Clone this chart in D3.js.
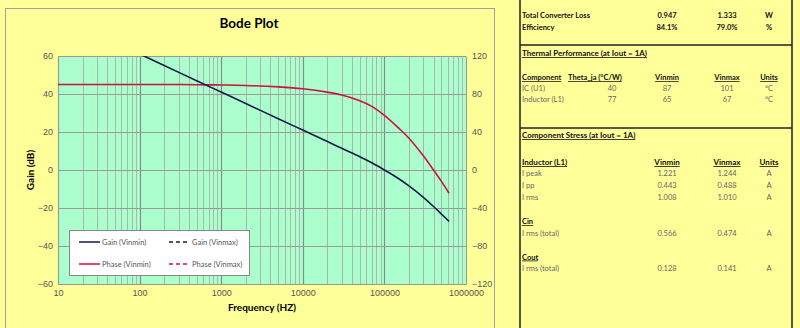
<!DOCTYPE html>
<meta charset="utf-8">
<title>Bode Plot</title>
<script src="https://d3js.org/d3.v7.min.js"></script>
<style>
  body { margin: 0; background: #ffff99; }
  svg { display: block; font-family: Lato, "Open Sans", sans-serif; }
</style>
<body>
<svg width="800" height="328"></svg>
<script>
// values
var freq = [10, 20, 50, 100, 200, 500, 1000, 2000, 5000, 10000, 20000, 30000, 50000,
  70000, 100000, 150000, 200000, 300000, 400000, 500000, 620000];
var gainVinmin = [81, 75, 67, 61, 55, 47, 41, 35, 27, 21, 15, 11.4, 7,
  3.8, 0, -4.6, -8.4, -14.4, -19.2, -23.2, -27];
var phaseVinmin = [90, 90, 90, 90, 90, 89.8, 89.5, 89, 87.5, 85.5, 82, 79, 73,
  67, 57.5, 44, 33.5, 15, 0, -12, -24.5];

var gainTicks = [-60, -40, -20, 0, 20, 40, 60];
var phaseTicks = [-120, -80, -40, 0, 40, 80, 120];
var freqTicks = [10, 100, 1000, 10000, 100000, 1000000];

var legendItems = [
  { label: "Gain (Vinmin)", color: "#1a1a4a", dash: null },
  { label: "Gain (Vinmax)", color: "#1a1a4a", dash: "4,3" },
  { label: "Phase (Vinmin)", color: "#cc1144", dash: null },
  { label: "Phase (Vinmax)", color: "#cc1144", dash: "4,3" }
];

// side table
var lossRows = [
  ["Total Converter Loss", "0.947", "1.333", "W"],
  ["Efficiency", "84.1%", "79.0%", "%"]
];
var thermalHead = ["Component", "Theta_ja (\u00B0C/W)", "Vinmin", "Vinmax", "Units"];
var thermalRows = [
  ["IC (U1)", "40", "87", "101", "\u00B0C"],
  ["Inductor (L1)", "77", "65", "67", "\u00B0C"]
];
var inductorRows = [
  ["I peak", "1.221", "1.244", "A"],
  ["I pp", "0.443", "0.488", "A"],
  ["I rms", "1.008", "1.010", "A"]
];
var cinRows = [["I rms (total)", "0.566", "0.474", "A"]];
var coutRows = [["I rms (total)", "0.128", "0.141", "A"]];

var svg = d3.select("svg");

var x = d3.scaleLog().domain([10, 1e6]).range([58, 466]);
var yL = d3.scaleLinear().domain([-60, 60]).range([284, 56]);
var yR = d3.scaleLinear().domain([-120, 120]).range([284, 56]);

// chart frame
svg.append("rect")
  .attr("x", 5.5).attr("y", 8.5).attr("width", 489).attr("height", 340)
  .attr("fill", "#ffff99").attr("stroke", "#a0a0a0");

svg.append("text")
  .attr("x", 249).attr("y", 28).attr("text-anchor", "middle")
  .attr("font-size", 13.5).attr("font-weight", "bold").text("Bode Plot");

// plot area
svg.append("rect")
  .attr("x", 58).attr("y", 56).attr("width", 408).attr("height", 228)
  .attr("fill", "#aaffcc");

var minor = [];
for (var d = 1; d < 6; d++) {
  for (var k = 1; k < 10; k++) minor.push(k * Math.pow(10, d));
}
svg.append("g").selectAll("line")
  .data(minor)
  .enter().append("line")
  .attr("x1", function (v) { return Math.round(x(v)) + 0.5; })
  .attr("x2", function (v) { return Math.round(x(v)) + 0.5; })
  .attr("y1", 56).attr("y2", 284)
  .attr("stroke", function (v) { return freqTicks.indexOf(v) >= 0 ? "#8a8a8a" : "#a8b8ac"; })
  .attr("stroke-width", function (v) { return freqTicks.indexOf(v) >= 0 ? 1.2 : 1; });

svg.append("g").selectAll("line")
  .data(gainTicks)
  .enter().append("line")
  .attr("x1", 58).attr("x2", 466)
  .attr("y1", function (v) { return Math.round(yL(v)) + 0.5; })
  .attr("y2", function (v) { return Math.round(yL(v)) + 0.5; })
  .attr("stroke", "#999");

// axes
function styleAxis(g) {
  g.select(".domain").attr("stroke", "#999");
  g.selectAll("text").attr("fill", "#555").attr("font-size", 9);
}
svg.append("g").attr("transform", "translate(58,0)")
  .call(d3.axisLeft(yL).tickValues(gainTicks).tickSize(0).tickPadding(5))
  .call(styleAxis);
svg.append("g").attr("transform", "translate(466,0)")
  .call(d3.axisRight(yR).tickValues(phaseTicks).tickSize(0).tickPadding(6))
  .call(styleAxis);
svg.append("g").attr("transform", "translate(0,284)")
  .call(d3.axisBottom(x).tickValues(freqTicks).tickFormat(d3.format("d")).tickSize(0).tickPadding(6))
  .call(styleAxis);

svg.append("text")
  .attr("transform", "translate(34,170) rotate(-90)")
  .attr("text-anchor", "middle").attr("font-size", 10).attr("font-weight", "bold")
  .text("Gain (dB)");
svg.append("text")
  .attr("x", 262).attr("y", 311).attr("text-anchor", "middle")
  .attr("font-size", 10).attr("font-weight", "bold")
  .text("Frequency (HZ)");

// curves
svg.append("clipPath").attr("id", "plotclip")
  .append("rect").attr("x", 58).attr("y", 56).attr("width", 408).attr("height", 228);

var gainLine = d3.line()
  .x(function (d, i) { return x(freq[i]); })
  .y(function (d) { return yL(d); })
  .curve(d3.curveCatmullRom.alpha(0.5));
var phaseLine = d3.line()
  .x(function (d, i) { return x(freq[i]); })
  .y(function (d) { return yR(d); })
  .curve(d3.curveCatmullRom.alpha(0.5));

var curves = svg.append("g").attr("clip-path", "url(#plotclip)");
curves.append("path").datum(phaseVinmin)
  .attr("d", phaseLine).attr("fill", "none")
  .attr("stroke", "#cc1144").attr("stroke-width", 1.6);
curves.append("path").datum(gainVinmin)
  .attr("d", gainLine).attr("fill", "none")
  .attr("stroke", "#1a1a4a").attr("stroke-width", 1.6);

// legend
var lg = svg.append("g").attr("transform", "translate(69,230)");
lg.append("rect").attr("x", 0.5).attr("y", 0.5).attr("width", 180).attr("height", 45)
  .attr("fill", "#fff").attr("stroke", "#888");
var li = lg.selectAll("g.item").data(legendItems).enter().append("g")
  .attr("class", "item")
  .attr("transform", function (d, i) {
    return "translate(" + (10 + (i % 2) * 90) + "," + (12 + Math.floor(i / 2) * 22) + ")";
  });
li.append("line").attr("x1", 0).attr("x2", 21).attr("y1", 0).attr("y2", 0)
  .attr("stroke", function (d) { return d.color; })
  .attr("stroke-width", 1.5)
  .attr("stroke-dasharray", function (d) { return d.dash; });
li.append("text").attr("x", 23).attr("y", 3).attr("font-size", 7.5).attr("fill", "#555")
  .text(function (d) { return d.label; });

// side table
var panel = svg.append("g");
panel.append("rect").attr("x", 520).attr("y", -2).attr("width", 272).attr("height", 340)
  .attr("fill", "#ffff99").attr("stroke", "#222").attr("stroke-width", 1.5);
panel.append("line").attr("x1", 520).attr("x2", 792).attr("y1", 45).attr("y2", 45)
  .attr("stroke", "#222").attr("stroke-width", 1.5);
panel.append("line").attr("x1", 520).attr("x2", 792).attr("y1", 128).attr("y2", 128)
  .attr("stroke", "#222").attr("stroke-width", 1.5);

var colX = [522, 667, 727, 769];
function row(y, cells, opts) {
  opts = opts || {};
  var xs = opts.xs || colX;
  var starts = opts.starts || 1;
  cells.forEach(function (c, i) {
    panel.append("text")
      .attr("x", xs[i]).attr("y", y)
      .attr("text-anchor", i < starts ? "start" : "middle")
      .attr("font-size", opts.size || 7.5)
      .attr("font-weight", opts.bold ? "bold" : "normal")
      .attr("text-decoration", opts.underline ? "underline" : null)
      .attr("fill", opts.bold ? "#111" : "#666")
      .text(c);
  });
}

lossRows.forEach(function (r, i) { row(18 + i * 12, r, { bold: true }); });

row(56, ["Thermal Performance (at Iout = 1A)"], { bold: true, underline: true, size: 8 });
row(80, thermalHead, { bold: true, underline: true, xs: [522, 568, 667, 727, 769], starts: 2 });
thermalRows.forEach(function (r, i) {
  row(91 + i * 11, r, { xs: [522, 612, 667, 727, 769] });
});

row(138, ["Component Stress (at Iout = 1A)"], { bold: true, underline: true, size: 8 });
row(165, ["Inductor (L1)", "Vinmin", "Vinmax", "Units"], { bold: true, underline: true, size: 8 });
inductorRows.forEach(function (r, i) { row(176 + i * 12, r); });
row(224, ["Cin"], { bold: true, underline: true });
cinRows.forEach(function (r) { row(235.5, r); });
row(259.5, ["Cout"], { bold: true, underline: true });
coutRows.forEach(function (r) { row(271, r); });
</script>
</body>
